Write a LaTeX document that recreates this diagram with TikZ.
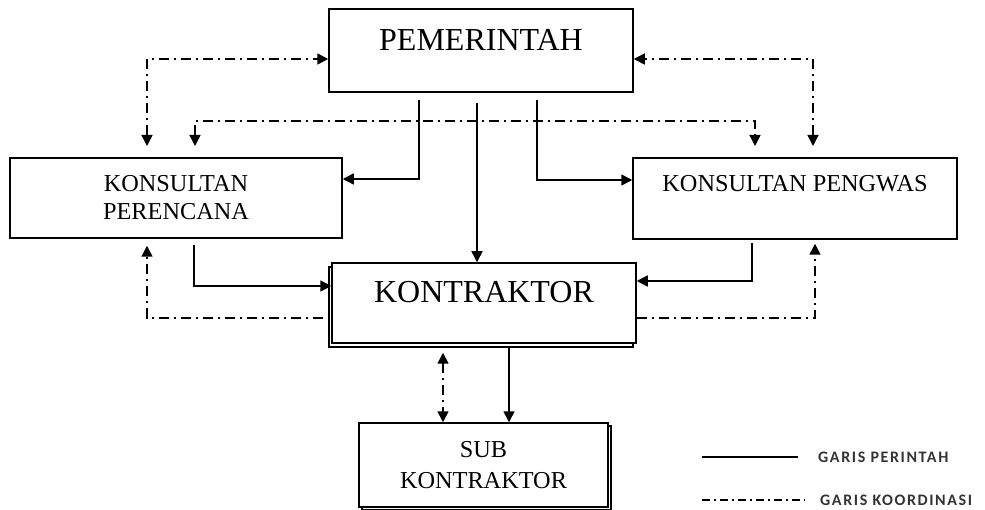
\documentclass[tikz,border=0pt]{standalone}
\usepackage{fontspec}
\setmainfont{Liberation Serif}
\newfontfamily\legendfont[LetterSpace=10]{Carlito}
\usetikzlibrary{arrows.meta,positioning,calc,shadows}

\begin{document}
\begin{tikzpicture}[x=1pt,y=-1pt,
    >={Triangle[length=11pt,width=11pt]},
    box/.style={draw, line width=1.5pt, fill=white, inner sep=0pt},
    bigtext/.style={font=\fontsize{32}{36}\selectfont, text height=22pt, text depth=22pt},
    perintah/.style={line width=1.6pt},
    koord/.style={line width=1.6pt, dash pattern=on 10pt off 5pt on 2pt off 5pt},
    legend/.style={anchor=west, inner sep=0pt, text=black!80, font=\legendfont\bfseries\fontsize{16}{18}\selectfont}]
    \path[use as bounding box, fill=white] (0,0) rectangle (985,510);

    % Boxes
    \node [box, bigtext, minimum width=304pt, minimum height=83pt] (pemerintah) at (481,50.5) {PEMERINTAH};
    \node [box, minimum width=332pt, minimum height=80pt, align=center, font=\fontsize{24.3}{28}\selectfont] (perencana) at (176,198) {KONSULTAN\\PERENCANA};
    \node [box, minimum width=324pt, minimum height=81pt, font=\fontsize{24.3}{28}\selectfont, text height=17pt, text depth=30pt] (pengawas) at (795,198.5) {KONSULTAN PENGWAS};
    \node [box, bigtext, minimum width=304pt, minimum height=80pt, copy shadow={shadow xshift=-3pt, shadow yshift=-4pt}] (kontraktor) at (484,303) {KONTRAKTOR};
    \node [box, minimum width=249pt, minimum height=84pt, align=center, font=\fontsize{24.3}{31}\selectfont, copy shadow={shadow xshift=3pt, shadow yshift=-3pt}] (subkon) at (483.5,465) {SUB\\KONTRAKTOR};

    % Garis perintah
    \draw [perintah, ->] (419,100) |- ([yshift=19pt]perencana.east);
    \draw [perintah, ->] (537,100) |- ([yshift=18.5pt]pengawas.east -| pengawas.west);
    \draw [perintah, ->] (477,103) -- ([xshift=-7pt]kontraktor.north);
    \draw [perintah, ->] (194,245) |- ([yshift=17pt]kontraktor.west);
    \draw [perintah, ->] (752,243) |- ([yshift=22pt]kontraktor.east);
    \draw [perintah, ->] ([xshift=25pt, yshift=-4pt]kontraktor.south) -- ([xshift=25.5pt]subkon.north);

    % Garis koordinasi
    \draw [koord, <->] (147,146) |- ([yshift=-8.5pt]pemerintah.west);
    \draw [koord, <->] (813,146) |- ([yshift=-8.5pt]pemerintah.east);
    \draw [koord, <->] (195,146) -- (195,121) -- (755,121) -- (755,146);
    \draw [koord, ->] ([xshift=-8pt, yshift=-15pt]kontraktor.west) -| ([xshift=-29pt, yshift=-7pt]perencana.south);
    \draw [koord, ->] ([yshift=-15pt]kontraktor.east) -| ([xshift=20pt, yshift=-4pt]pengawas.south);
    \draw [koord, <->] ([xshift=-41pt, yshift=-9pt]kontraktor.south) -- ([xshift=-40.5pt]subkon.north);

    % Keterangan
    \node [legend] (garis1) at (818,457) {GARIS PERINTAH};
    \node [legend] (garis2) at (820,500) {GARIS KOORDINASI};
    \draw [line width=1.2pt] (702,457) -- ([xshift=-20pt]garis1.west);
    \draw [line width=1.2pt, dash pattern=on 8pt off 4pt on 2pt off 4pt] (702,500) -- ([xshift=-15pt]garis2.west);
\end{tikzpicture}
\end{document}
